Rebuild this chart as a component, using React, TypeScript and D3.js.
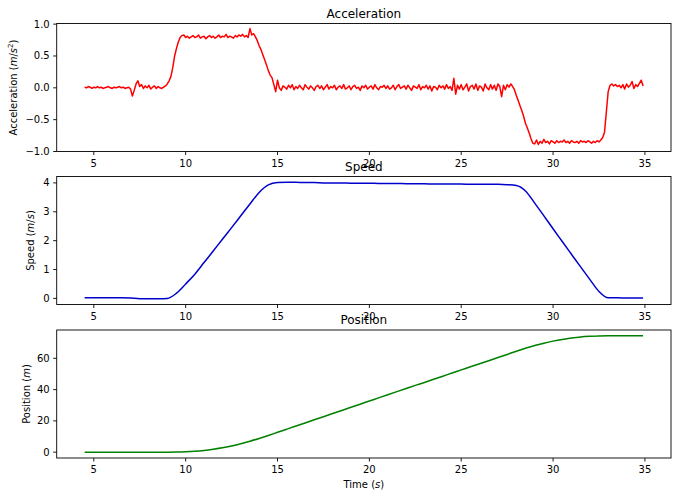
import * as d3 from "d3";

// acceleration, sampled every 0.1 s from t = 4.5 s, in hundredths of m/s^2
const accelStart = 4.5;
const accelStep = 0.1;
const accelCenti = [
  1, 0, 2, 1, -1, 1, 0, 2, 0, 1, -1, 0, 1, 2, 0, -1, 1, 0, 1, 2, 0, 1, -1, 0, 1,
  -2, -13, -4, 6, 11,
  2, 5, -1, 3, 0, 4, -2, 1, 3, -1, 2, 0, -1, 1,
  3, 6, 11, 18, 32, 50, 62, 72, 79, 82,
  83, 79, 81, 78, 80, 82, 79, 80, 83, 78, 80, 81, 77, 80, 82, 79, 81, 78, 80, 83,
  79, 81, 80, 84, 79, 81, 80, 78, 82, 80, 83, 81, 84, 80, 82, 79, 93, 83,
  85, 80, 74, 66, 60, 52, 44, 36, 27, 20, 16, 5, -6,
  12, 0, -4, 3, 1, -2, 4, 0, 5, -3,
  2, -1, 4, 0, -3, 5, 1, -2, 3, 0,
  -4, 2, 4, -1, 3, -3, 1, 5, -2, 2,
  0, 4, -3, 1, 3, -1, 5, -2, 0, 3,
  -3, 2, 4, -1, 1, -4, 3, 0, 4, -2,
  1, 3, -2, 5, 0, -3, 2, 1, 4, -1,
  3, -2, 0, 4, -3, 2, 5, -1, 1, 3,
  -2, 4, 0, -4, 3, 1, -1, 5, -3, 2,
  0, 4, -2, 3, -5, 2, 1, -3, 4, 0,
  3, -2, 5, -1, 2, -4, 15, -10, 4, -2,
  5, -3, 1, 6, -5, 2, 4, -2, 6, -4,
  3, 1, -5, 6, 0, -3, 5, -2, 4, -4,
  6, 2, -14, 4, -3, 5, 1, 6,
  2, -3, -12, -20, -28, -36, -45, -56, -63, -71, -80, -87,
  -88, -82, -89, -84, -87, -81, -86, -84, -88, -83,
  -85, -87, -83, -86, -84, -85, -82, -86, -84, -87,
  -83, -85, -86, -84, -87, -83, -85, -84, -86, -83,
  -85, -87, -84, -86, -83, -85, -82,
  -78, -70, -38, -6,
  4, 6, 3, 5, 2, 4, 0, 5, -2, 6, 1, 4, 10, -1, 5, 2, 7, 12, 3,
];

// speed and position read every 0.5 s
const smoothTime = [
  4.5, 5, 5.5, 6, 6.5, 7, 7.5, 8, 8.5, 9,
  9.5, 10, 10.5, 11, 11.5, 12, 12.5, 13, 13.5, 14,
  14.5, 15, 15.5, 16, 16.5, 17, 17.5, 18, 18.5, 19,
  19.5, 20, 20.5, 21, 21.5, 22, 22.5, 23, 23.5, 24,
  24.5, 25, 25.5, 26, 26.5, 27, 27.5, 28, 28.5, 29,
  29.5, 30, 30.5, 31, 31.5, 32, 32.5, 33, 33.5, 34,
  34.5, 34.9,
];

const speed = [
  0.02, 0.02, 0.02, 0.02, 0.02, 0.01, -0.01, -0.01, -0.01, 0.0,
  0.18, 0.5, 0.84, 1.24, 1.64, 2.05, 2.45, 2.86, 3.27, 3.67,
  3.93, 4.01, 4.02, 4.02, 4.01, 4.01, 4.0, 4.0, 4.0, 3.99,
  3.99, 3.99, 3.98, 3.98, 3.98, 3.97, 3.97, 3.97, 3.96, 3.96,
  3.96, 3.96, 3.95, 3.95, 3.95, 3.95, 3.94, 3.91, 3.72, 3.3,
  2.86, 2.41, 1.97, 1.53, 1.09, 0.66, 0.24, 0.02, 0.02, 0.01,
  0.01, 0.01,
];

const position = [
  0, 0, 0, 0, 0, 0, 0, 0, 0, 0,
  0.05, 0.25, 0.6, 1.15, 1.9, 2.8, 4.0, 5.4, 7.0, 8.8,
  10.7, 12.7, 14.7, 16.7, 18.7, 20.7, 22.7, 24.7, 26.7, 28.7,
  30.7, 32.7, 34.7, 36.7, 38.7, 40.7, 42.7, 44.6, 46.6, 48.6,
  50.6, 52.6, 54.6, 56.5, 58.5, 60.5, 62.5, 64.5, 66.4, 68.2,
  69.7, 71.0, 72.1, 73.0, 73.7, 74.1, 74.35, 74.4, 74.4, 74.4,
  74.4, 74.4,
];

const xTicks = [5, 10, 15, 20, 25, 30, 35];
const accelTicks = [-1, -0.5, 0, 0.5, 1];
const speedTicks = [0, 1, 2, 3, 4];
const positionTicks = [0, 20, 40, 60];

const W = 678;
const H = 499;
const left = 56.7;
const right = 671;
const panelH = 128;
const font = "DejaVu Sans, sans-serif";

type Pt = [number, number];

function padded(vals: number[]): [number, number] {
  const [lo, hi] = d3.extent(vals) as [number, number];
  const m = (hi - lo) * 0.05;
  return [lo - m, hi + m];
}

function Panel({
  top, title, points, color, yDomain, yTicks, yFmt, curve, ylabel, ylabelX, xlabel,
}: {
  top: number; title: string; points: Pt[]; color: string; yDomain: [number, number];
  yTicks: number[]; yFmt: (v: number) => string; curve: d3.CurveFactory;
  ylabel: React.ReactNode; ylabelX: number; xlabel?: React.ReactNode;
}) {
  const bottom = top + panelH;
  const x = d3.scaleLinear().domain(padded([accelStart, 34.9])).range([left, right]);
  const y = d3.scaleLinear().domain(yDomain).range([bottom, top]);
  const line = d3.line<Pt>().x(d => x(d[0])).y(d => y(d[1])).curve(curve);
  const clipId = `clip-${title}`;

  return (
    <g fontFamily={font}>
      <defs>
        <clipPath id={clipId}>
          <rect x={left} y={top} width={right - left} height={panelH} />
        </clipPath>
      </defs>
      <path d={line(points) || ""} fill="none" stroke={color} strokeWidth={1.5}
        strokeLinejoin="round" clipPath={`url(#${clipId})`} />
      <rect x={left} y={top} width={right - left} height={panelH} fill="none" stroke="#000" strokeWidth={0.9} />
      {xTicks.map(t => (
        <g key={t}>
          <line x1={x(t)} x2={x(t)} y1={bottom} y2={bottom + 3.5} stroke="#000" strokeWidth={0.9} />
          <text x={x(t)} y={bottom + 15} textAnchor="middle" fontSize={10}>{t}</text>
        </g>
      ))}
      {yTicks.map(t => (
        <g key={t}>
          <line x1={left - 3.5} x2={left} y1={y(t)} y2={y(t)} stroke="#000" strokeWidth={0.9} />
          <text x={left - 7} y={y(t)} dy="0.35em" textAnchor="end" fontSize={10}>{yFmt(t)}</text>
        </g>
      ))}
      <text x={(left + right) / 2} y={top - 6} textAnchor="middle" fontSize={12}>{title}</text>
      <text transform={`translate(${ylabelX},${(top + bottom) / 2}) rotate(-90)`} textAnchor="middle" fontSize={10}>
        {ylabel}
      </text>
      {xlabel && (
        <text x={(left + right) / 2} y={bottom + 30} textAnchor="middle" fontSize={10}>{xlabel}</text>
      )}
    </g>
  );
}

export default function App() {
  const accel = accelCenti.map(v => v / 100);
  const accelPts: Pt[] = accel.map((a, i) => [accelStart + i * accelStep, a]);
  const speedPts: Pt[] = smoothTime.map((t, i) => [t, speed[i]]);
  const posPts: Pt[] = smoothTime.map((t, i) => [t, position[i]]);

  return (
    <div style={{ position: "absolute", left: 0, top: 0 }}>
      <svg width={W} height={H} style={{ display: "block", background: "#fff" }}>
        <Panel
          top={23.5}
          title="Acceleration"
          points={accelPts}
          color="#ff0000"
          yDomain={[-1.0, 1.01]}
          yTicks={accelTicks}
          yFmt={d3.format(".1f")}
          curve={d3.curveLinear}
          ylabelX={16.5}
          ylabel={<>Acceleration (<tspan fontStyle="italic">m</tspan>/<tspan fontStyle="italic">s</tspan><tspan fontSize={7} dy={-4}>2</tspan><tspan dy={4}>)</tspan></>}
        />
        <Panel
          top={176.5}
          title="Speed"
          points={speedPts}
          color="#0000cd"
          yDomain={padded(speed)}
          yTicks={speedTicks}
          yFmt={d3.format("d")}
          curve={d3.curveMonotoneX}
          ylabelX={33.7}
          ylabel={<>Speed (<tspan fontStyle="italic">m</tspan>/<tspan fontStyle="italic">s</tspan>)</>}
        />
        <Panel
          top={330}
          title="Position"
          points={posPts}
          color="#008000"
          yDomain={padded(position)}
          yTicks={positionTicks}
          yFmt={d3.format("d")}
          curve={d3.curveMonotoneX}
          ylabelX={29.7}
          ylabel={<>Position (<tspan fontStyle="italic">m</tspan>)</>}
          xlabel={<>Time (<tspan fontStyle="italic">s</tspan>)</>}
        />
      </svg>
    </div>
  );
}
